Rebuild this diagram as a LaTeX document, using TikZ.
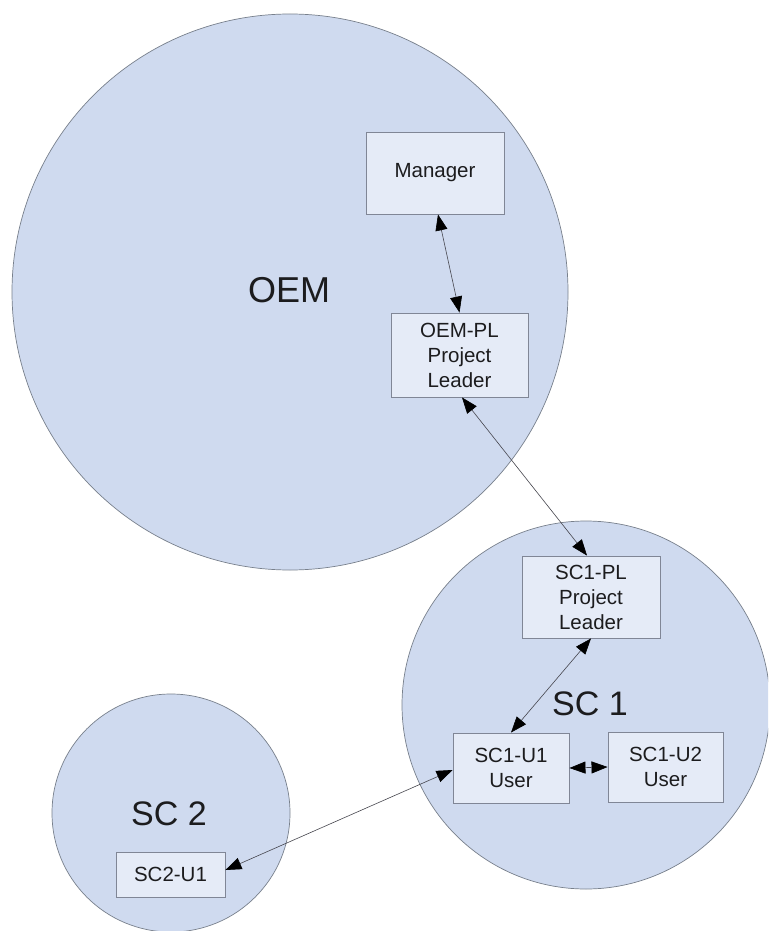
\documentclass[tikz,border=0pt]{standalone}
\usepackage{fontspec}
\setmainfont{Liberation Sans}
\usetikzlibrary{arrows.meta}
\definecolor{zonefill}{RGB}{207,218,239}
\definecolor{zoneline}{RGB}{120,128,140}
\definecolor{boxfill}{RGB}{229,235,247}
\definecolor{boxline}{RGB}{128,134,150}
\definecolor{linkline}{RGB}{70,70,78}
\definecolor{inkcol}{RGB}{28,28,30}

\begin{document}
\begin{tikzpicture}[x=1pt,y=-1pt,
  zone/.style={fill=zonefill,draw=zoneline,line width=0.7pt},
  rolebox/.style={rectangle,fill=boxfill,draw=boxline,line width=0.9pt,
    align=center,inner sep=0pt,font=\fontsize{20.5}{25}\selectfont,text=inkcol},
  zonelabel/.style={inner sep=0pt,text=inkcol},
  link/.style={draw=linkline,line width=0.6pt,
    {Triangle[length=16pt,width=12pt,color=black,fill=black]}-{Triangle[length=16pt,width=12pt,color=black,fill=black]}}
]
\useasboundingbox (0,0) rectangle (768,931);
\fill[white] (0,0) rectangle (768,931);

% organisation zones
\begin{scope}
  \clip (0,0) rectangle (768,931);
  \path[zone] (290,292) circle[radius=278pt];
  \path[zone] (586,705) circle[radius=184pt];
  \path[zone] (171,813) circle[radius=119pt];
\end{scope}

% zone names
\node[zonelabel,font=\fontsize{36}{40}\selectfont] (oem) at (289,290) {OEM};
\node[zonelabel,font=\fontsize{34}{40}\selectfont] (sc1) at (590,704) {SC 1};
\node[zonelabel,font=\fontsize{34}{40}\selectfont] (sc2) at (169,814) {SC 2};

% roles
\node[rolebox,minimum width=138pt,minimum height=82pt] (mgr) at (435,173) {Manager};
\node[rolebox,minimum width=137pt,minimum height=84pt] (oempl) at (459.5,355) {OEM-PL\\Project\\Leader};
\node[rolebox,minimum width=138pt,minimum height=82pt] (sc1pl) at (591,597) {SC1-PL\\Project\\Leader};
\node[rolebox,minimum width=116pt,minimum height=70pt] (u1) at (511,768) {SC1-U1\\User};
\node[rolebox,minimum width=115pt,minimum height=70pt] (u2) at (665.5,767) {SC1-U2\\User};
\node[rolebox,minimum width=109pt,minimum height=45pt] (sc2u1) at (170.5,874.5) {SC2-U1};

% communication links
\draw[link] ([xshift=3pt]mgr.south) -- (oempl.north);
\draw[link] ([xshift=2.5pt]oempl.south) -- ([xshift=-4pt]sc1pl.north);
\draw[link] (sc1pl.south) -- (u1.north);
\draw[link] (u1.east) -- (u2.west);
\draw[link] ([yshift=4.5pt]sc2u1.east) -- ([yshift=-2pt]u1.west);
\end{tikzpicture}
\end{document}
